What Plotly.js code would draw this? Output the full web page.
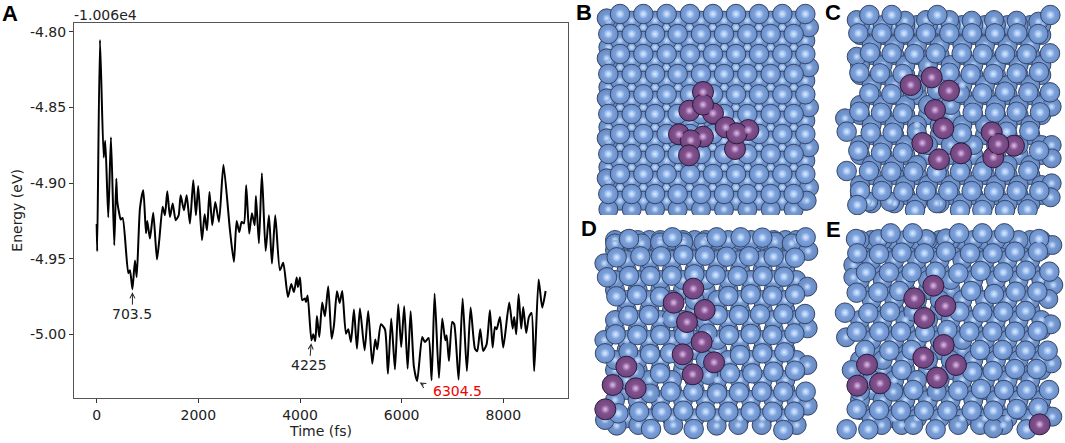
<!DOCTYPE html>
<html>
<head>
<meta charset="utf-8">
<script src="https://cdn.plot.ly/plotly-3.0.1.min.js"></script>
<style>
  html, body { margin: 0; padding: 0; background: #fff; }
  #chart { width: 1065px; height: 443px; }
</style>
</head>
<body>
<div id="chart"></div>
<script>
// Panel A, energy trace
const timeFs = [0, 10, 65, 138, 169, 228, 281, 346, 386, 405, 444, 472, 511, 622, 655, 703.5, 753, 787, 852, 917,
  970, 995, 1048, 1113, 1186, 1231, 1298, 1343, 1389, 1442, 1495, 1554, 1613, 1652, 1717, 1770, 1835, 1900, 1953, 1998,
  2071, 2124, 2170, 2219, 2274, 2333, 2406, 2494, 2622, 2700, 2753, 2805, 2852, 2897, 2942, 3001, 3054, 3108, 3133, 3192,
  3250, 3324, 3389, 3448, 3513, 3605, 3670, 3763, 3828, 3881, 3934, 3960, 3999, 4044, 4097, 4117, 4150, 4225, 4261, 4300,
  4333, 4379, 4437, 4490, 4555, 4622, 4668, 4727, 4780, 4831, 4904, 4949, 5002, 5061, 5120, 5179, 5271, 5342, 5421, 5480,
  5519, 5592, 5671, 5730, 5795, 5868, 5932, 5991, 6050, 6117, 6176, 6241, 6304.5, 6404, 6457, 6530, 6589, 6648, 6733, 6798,
  6857, 6885, 6930, 6994, 7034, 7120, 7199, 7283, 7356, 7441, 7486, 7545, 7604, 7671, 7736, 7789, 7835, 7868, 7933, 7998,
  8116, 8183, 8214, 8254, 8300, 8352, 8391, 8450, 8503, 8556, 8607, 8694, 8765, 8832];
const energyEv = [-4.927, -4.945, -4.8055, -4.883, -4.872, -4.9225, -4.8696, -4.941, -4.897, -4.912, -4.920, -4.924, -4.923, -4.9595, -4.9575, -4.970, -4.951, -4.962, -4.9165, -4.9046,
  -4.933, -4.925, -4.9366, -4.9196, -4.9504, -4.9377, -4.9155, -4.9212, -4.9053, -4.9223, -4.9134, -4.9245, -4.9212, -4.908, -4.9179, -4.908, -4.9267, -4.898, -4.9212, -4.9018,
  -4.9377, -4.9205, -4.9311, -4.9058, -4.9278, -4.9124, -4.9256, -4.8879, -4.9311, -4.952, -4.925, -4.9322, -4.9256, -4.9265, -4.9013, -4.9333, -4.9198, -4.9278, -4.9084, -4.9397,
  -4.8934, -4.9448, -4.9212, -4.9531, -4.9212, -4.9575, -4.9526, -4.9752, -4.9666, -4.9719, -4.9623, -4.9686, -4.9623, -4.9773, -4.9762, -4.9785, -4.9742, -5.0038, -4.9998, -5.0043,
  -4.9877, -5.0016, -4.9789, -4.9879, -4.9681, -5.0027, -4.9939, -4.9714, -4.9791, -4.9712, -4.9994, -4.9965, -5.0049, -4.9835, -5.0093, -4.9828, -5.0104, -4.9844, -5.0192, -5.0033,
  -5.0097, -4.9932, -4.9965, -5.0258, -4.9894, -5.023, -4.98, -5.0082, -4.9813, -5.0225, -4.9846, -5.0214, -5.0307, -5.0016, -5.0049, -5.0023, -5.0302, -4.9729, -5.0287, -4.9894,
  -5.0038, -5.0005, -5.0175, -4.9917, -4.9932, -5.0298, -4.9762, -5.0241, -4.9822, -5.0093, -5.0111, -4.9965, -5.0109, -5.0064, -4.984, -5.0086, -4.995, -4.9965, -4.9884, -5.0086,
  -4.9789, -4.9961, -4.9884, -4.9998, -4.9734, -4.9961, -4.9818, -4.999, -4.9884, -4.9857, -5.0241, -4.9637, -4.9822, -4.9712];

const yTicks = [-4.80, -4.85, -4.90, -4.95, -5.00];
const yTickText = ['-4.80', '-4.85', '-4.90', '-4.95', '-5.00'];
const xTicks = [0, 2000, 4000, 6000, 8000];

// Panel B is a nearly perfect lattice
const bRowA = [135, 205, 275, 345, 414, 483, 552, 622, 691];
const bRowB = [100, 170, 240, 308, 378, 447, 517, 587, 656];
const bRowAY = [42, 162, 283, 402, 522];
const bRowBY = [102, 222, 342, 462, 582];
const bBelowAY = [122, 242, 362, 482, 602];
const bBelowBY = [62, 182, 302, 422, 542, 628];
const bDeepAY = [82, 202, 322, 442, 562];
const bDeepBY = [142, 262, 382, 502];
const bExtra = [[95, 55], [95, 175], [95, 295], [95, 415], [95, 535], [702, 82], [702, 202], [702, 322], [702, 442], [702, 562], [695, 602]];
const bPurple = [[384, 276], [343, 332], [414, 340], [384, 314], [312, 403], [384, 410], [347, 421], [342, 466],
  [452, 382], [520, 390], [480, 447], [485, 400]];

// Panels C, D and E, atoms picked one by one
const lowerRowA = [120, 188, 256, 324, 392, 460, 528, 596, 664];
const lowerRowB = [155, 223, 291, 359, 427, 495, 563, 631];
const lowerRowAY = [75, 195, 315, 435, 555];
const lowerRowBY = [135, 255, 375, 495, 610];
const deepRowA = [120, 188, 256, 324, 392, 460, 528, 596, 664];
const deepRowB = [155, 223, 291, 359, 427, 495, 563, 631];
const deepRowAY = [105, 225, 345, 465, 585];
const deepRowBY = [75, 165, 285, 405, 525];

const cBehind = [[110, 60], [255, 62], [318, 60], [388, 60], [455, 62], [522, 60], [590, 62], [655, 65], [110, 170], [695, 320],
  [75, 355], [695, 435], [695, 475], [695, 550], [692, 592], [350, 610], [145, 605], [210, 605], [280, 270], [420, 280], [350, 270], [290, 395]];
const cTop = [[148, 45], [215, 45], [352, 45], [691, 45],
  [115, 100], [185, 100], [252, 100], [318, 100], [388, 100], [456, 100], [525, 100], [592, 100], [655, 102],
  [150, 158], [215, 160], [283, 162], [347, 160], [425, 160], [488, 162], [555, 162], [620, 162], [690, 160],
  [118, 218], [180, 220], [248, 222], [388, 218], [452, 222], [520, 222], [590, 220], [657, 216],
  [148, 280], [214, 282], [487, 280], [555, 275], [625, 277], [690, 277],
  [118, 335], [183, 338], [248, 340], [458, 338], [525, 338], [590, 335], [660, 337],
  [80, 395], [152, 398], [218, 398], [425, 400], [560, 395], [628, 393],
  [115, 452], [183, 458], [248, 458], [657, 452],
  [80, 513], [147, 513], [214, 515], [280, 515], [350, 518], [420, 515], [487, 515], [555, 515], [625, 512],
  [120, 573], [185, 573], [250, 575], [318, 573], [385, 573], [455, 573], [522, 575], [590, 573], [658, 573],
  [112, 615], [285, 630], [420, 630], [487, 630], [555, 630], [623, 628]];
const cPurple = [[272, 255], [335, 232], [387, 272], [345, 330], [370, 385], [307, 429], [357, 478], [423, 460],
  [515, 397], [582, 437], [520, 472], [535, 432]];

const dBehind = [[120, 85], [200, 85], [255, 82], [325, 82], [385, 82], [600, 80], [650, 85], [700, 108], [88, 145], [697, 215],
  [290, 310], [698, 340], [88, 375], [160, 410], [398, 355], [697, 450], [180, 470], [400, 480], [225, 535], [698, 572],
  [125, 632], [190, 630], [295, 630], [425, 632], [490, 630], [560, 630], [665, 630], [90, 615]];
const dTop = [[162, 72], [292, 67], [425, 67], [497, 67], [562, 68], [692, 67],
  [125, 127], [196, 124], [258, 124], [325, 120], [390, 122], [455, 125], [522, 124], [596, 125], [660, 128],
  [96, 187], [162, 183], [226, 183], [290, 182], [358, 178], [422, 180], [488, 183], [563, 183], [627, 185],
  [124, 244], [186, 240], [255, 245], [460, 243], [527, 238], [592, 242], [660, 238],
  [160, 302], [222, 300], [428, 300], [492, 300], [555, 298], [625, 297], [690, 297],
  [122, 358], [187, 360], [256, 360], [328, 360], [462, 360], [527, 357], [592, 360], [658, 355],
  [90, 415], [225, 417], [285, 415], [495, 420], [562, 415], [628, 412],
  [255, 475], [465, 475], [532, 475], [595, 470], [660, 467],
  [287, 530], [355, 530], [426, 535], [492, 532], [560, 530], [625, 530], [692, 530],
  [130, 595], [192, 590], [260, 590], [325, 587], [392, 590], [460, 590], [527, 590], [592, 590], [658, 590],
  [228, 642], [356, 642], [625, 645]];
const dPurple = [[355, 221], [296, 263], [389, 285], [336, 321], [380, 381], [323, 418], [417, 442], [353, 478],
  [154, 455], [113, 510], [182, 520], [91, 583]];

const eBehind = [[175, 72], [318, 72], [378, 70], [697, 90], [100, 150], [100, 187], [700, 210], [685, 252], [280, 290],
  [693, 328], [78, 367], [95, 465], [695, 445], [220, 530], [350, 530], [120, 530], [697, 605],
  [245, 630], [415, 630], [480, 630], [550, 630], [185, 630], [280, 630], [520, 640]];
const eTop = [[108, 72], [212, 55], [278, 55], [417, 55], [487, 55], [553, 55], [657, 72],
  [112, 115], [177, 117], [245, 113], [313, 115], [378, 110], [450, 115], [518, 115], [585, 110], [654, 110],
  [138, 172], [207, 172], [275, 172], [347, 170], [415, 175], [482, 168], [550, 172], [618, 167], [688, 170],
  [110, 233], [175, 232], [238, 228], [453, 228], [522, 237], [587, 230], [652, 230],
  [75, 293], [145, 294], [210, 290], [418, 290], [487, 292], [550, 290], [617, 288],
  [110, 350], [178, 350], [243, 350], [315, 352], [382, 345], [448, 350], [517, 350], [585, 350], [653, 348],
  [135, 405], [208, 407], [275, 405], [480, 405], [548, 405], [617, 407], [683, 407],
  [245, 465], [457, 470], [518, 468], [585, 462], [650, 462],
  [280, 525], [415, 527], [483, 522], [552, 525], [620, 525], [687, 525],
  [110, 583], [177, 585], [243, 587], [312, 587], [382, 587], [455, 587], [520, 587], [590, 582], [655, 578],
  [80, 643], [145, 643], [347, 643], [620, 643]];
const ePurple = [[340, 212], [283, 250], [376, 273], [313, 309], [371, 390], [310, 428], [408, 450], [351, 488],
  [141, 449], [112, 512], [180, 505], [659, 628]];

// picture size, everything below is placed in these pixels
const W = 1065, H = 443;

function grid(ys, xs) {
  const out = [];
  ys.forEach(y => xs.forEach(x => out.push([x, y])));
  return out;
}

// a sphere is two traces: the ball and a small bright spot on it
function atoms(list, axisNum, look) {
  const base = {
    x: list.map(p => p[0]),
    y: list.map(p => p[1]),
    xaxis: 'x' + axisNum,
    yaxis: 'y' + axisNum,
    type: 'scatter',
    mode: 'markers',
    hoverinfo: 'skip'
  };
  return [
    Object.assign({}, base, { marker: { size: look.size, color: look.edgeBody, line: { color: look.edge, width: 1 },
      gradient: { type: 'radial', color: look.body } } }),
    Object.assign({}, base, { marker: { size: look.spot, color: look.body, line: { width: 0 },
      gradient: { type: 'radial', color: look.shine } } })
  ];
}

const blueAtom = { size: 19.5, spot: 8, edge: '#34466a', edgeBody: '#6a8ec9', body: '#8fb2e8', shine: '#dcedff' };
const deepAtom = { size: 19, spot: 7, edge: '#34466a', edgeBody: '#6587c0', body: '#84a7dd', shine: '#cfe4ff' };
const purpleAtom = { size: 21, spot: 8, edge: '#2c1a38', edgeBody: '#70437d', body: '#8d5d9b', shine: '#e3bfe8' };

const panels = [
  { num: 2, deep: grid(bDeepAY, bRowA).concat(grid(bDeepBY, bRowB)),
    lower: grid(bBelowAY, bRowA).concat(grid(bBelowBY, bRowB), bExtra),
    top: grid(bRowAY, bRowA).concat(grid(bRowBY, bRowB)), purple: bPurple },
  { num: 3, deep: grid(deepRowAY, deepRowA).concat(grid(deepRowBY, deepRowB)),
    lower: grid(lowerRowAY, lowerRowA).concat(grid(lowerRowBY, lowerRowB), cBehind), top: cTop, purple: cPurple },
  { num: 4, deep: grid(deepRowAY, deepRowA).concat(grid(deepRowBY, deepRowB)),
    lower: grid(lowerRowAY, lowerRowA).concat(grid(lowerRowBY, lowerRowB), dBehind), top: dTop, purple: dPurple },
  { num: 5, deep: grid(deepRowAY, deepRowA).concat(grid(deepRowBY, deepRowB)),
    lower: grid(lowerRowAY, lowerRowA).concat(grid(lowerRowBY, lowerRowB), eBehind), top: eTop, purple: ePurple }
];

const data = [{
  x: timeFs,
  y: energyEv,
  type: 'scatter',
  mode: 'lines',
  hoverinfo: 'skip',
  line: { color: '#000', width: 2, shape: 'spline', smoothing: 0.6 }
}];
panels.forEach(p => {
  data.push(...atoms(p.deep, p.num, deepAtom));
  data.push(...atoms(p.lower, p.num, deepAtom));
  data.push(...atoms(p.top, p.num, blueAtom));
  data.push(...atoms(p.purple, p.num, purpleAtom));
});

const font = { family: 'DejaVu Sans', size: 14, color: '#222' };

function hidden(domain, range) {
  return { domain: domain, range: range, visible: false, fixedrange: true };
}

function panelLabel(text, x, y) {
  return {
    xref: 'paper', yref: 'paper', x: x / W, y: 1 - y / H, text: text, showarrow: false,
    font: { family: 'Liberation Sans', size: 22, color: '#000', weight: 'bold' }, xanchor: 'center', yanchor: 'middle'
  };
}

const layout = {
  width: W,
  height: H,
  margin: { l: 0, r: 0, t: 0, b: 0 },
  paper_bgcolor: '#fff',
  plot_bgcolor: '#fff',
  showlegend: false,
  font: font,
  xaxis: {
    domain: [74 / W, 568 / W], range: [-446, 9272], tickvals: xTicks, ticktext: xTicks.map(String),
    ticks: 'outside', ticklen: 4, tickcolor: '#333', showgrid: false, zeroline: false,
    showline: true, mirror: true, linecolor: '#555', linewidth: 1,
    title: { text: 'Time (fs)', standoff: 4, font: font }
  },
  yaxis: {
    domain: [1 - 397.7 / H, 1 - 23 / H], range: [-5.0417, -4.7942], tickvals: yTicks, ticktext: yTickText,
    ticks: 'outside', ticklen: 4, tickcolor: '#333', showgrid: false, zeroline: false,
    showline: true, mirror: true, linecolor: '#555', linewidth: 1,
    title: { text: 'Energy (eV)', standoff: 4, font: font }
  },
  xaxis2: hidden([575 / W, 820 / W], [0, 735]),
  yaxis2: hidden([1 - 220 / H, 1], [660, 0]),
  xaxis3: hidden([820 / W, 1], [0, 735]),
  yaxis3: hidden([1 - 220 / H, 1], [660, 0]),
  xaxis4: hidden([575 / W, 820 / W], [0, 735]),
  yaxis4: hidden([0, 1 - 215 / H], [684, 0]),
  xaxis5: hidden([820 / W, 1], [0, 735]),
  yaxis5: hidden([0, 1 - 215 / H], [684, 0]),
  annotations: [
    panelLabel('A', 10, 13),
    panelLabel('B', 584, 12),
    panelLabel('C', 833, 12),
    panelLabel('D', 589, 228),
    panelLabel('E', 833, 229),
    { xref: 'paper', yref: 'paper', x: 74 / W, y: 1 - 15 / H, text: '-1.006e4', showarrow: false, xanchor: 'left', yanchor: 'middle', xshift: -2, font: font },
    // minima of the run, black arrows point straight up
    { x: 703.5, y: -4.970, text: '703.5', ax: 0, ay: 25, arrowhead: 5, arrowsize: 1, arrowwidth: 1, arrowcolor: '#222', standoff: 3, font: font },
    { x: 4225, y: -5.0038, text: '4225', ax: -2, ay: 25, arrowhead: 5, arrowsize: 1, arrowwidth: 1, arrowcolor: '#222', standoff: 3, font: font },
    { x: 6304.5, y: -5.0307, ax: 10, ay: 6, arrowhead: 5, arrowsize: 1, arrowwidth: 1, arrowcolor: '#222', standoff: 3 },
    { x: 6304.5, y: -5.0307, text: '6304.5', showarrow: false, xshift: 40, yshift: -10, font: { family: 'DejaVu Sans', size: 14, color: '#f00000' } }
  ]
};

Plotly.newPlot('chart', data, layout, { displayModeBar: false, staticPlot: true });
</script>
</body>
</html>
